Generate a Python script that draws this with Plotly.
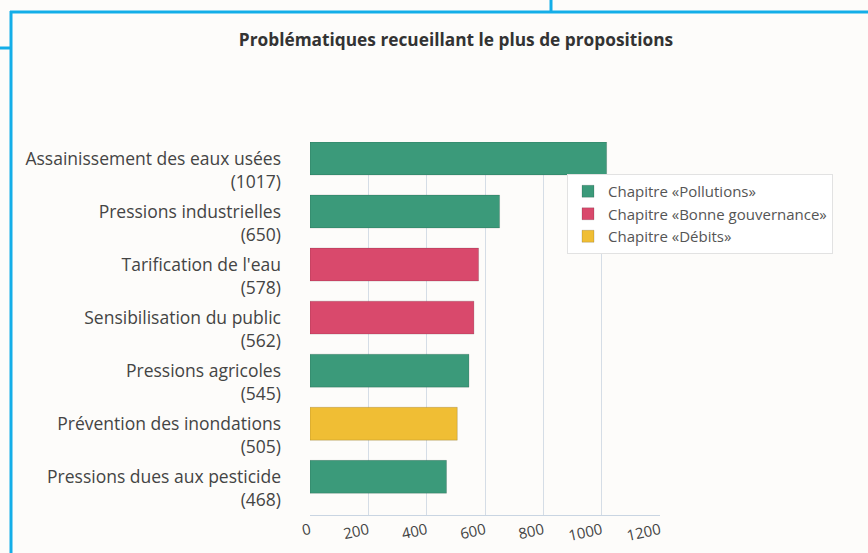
import plotly.graph_objects as go

categories = [
    "Assainissement des eaux usées",
    "Pressions industrielles",
    "Tarification de l'eau",
    "Sensibilisation du public",
    "Pressions agricoles",
    "Prévention des inondations",
    "Pressions dues aux pesticide",
]
values = [1017, 650, 578, 562, 545, 505, 468]
chapters = ["Pollutions", "Pollutions", "Bonne gouvernance", "Bonne gouvernance",
            "Pollutions", "Débits", "Pollutions"]
chapter_names = ["Pollutions", "Bonne gouvernance", "Débits"]
chapter_colors = {"Pollutions": "#3b9a7a", "Bonne gouvernance": "#d9496c", "Débits": "#f0be34"}
x_ticks = [0, 200, 400, 600, 800, 1000, 1200]

labels = [f"{c}<br>({v})" for c, v in zip(categories, values)]

W, H = 868, 553
ML, MR, MT, MB = 310, 208, 142, 38
BAR_W = 0.62
BAR_SHIFT = 0.22  # bars sit slightly above their labels, as in the perspective original

fig = go.Figure()
for ch in chapter_names:
    ys = [l for l, c in zip(labels, chapters) if c == ch]
    xs = [v for v, c in zip(values, chapters) if c == ch]
    fig.add_trace(go.Bar(
        x=xs, y=ys, orientation="h", name=f"Chapitre «{ch}»",
        marker=dict(color=chapter_colors[ch], line=dict(color="rgba(0,0,0,0.15)", width=1)),
        width=BAR_W, offset=-BAR_W / 2 - BAR_SHIFT,
    ))

def px_x(px):
    return (px - ML) / (W - ML - MR)

def px_y(py):
    return (H - MB - py) / (H - MT - MB)

frame = "#14aee8"
shapes = [
    dict(type="line", xref="paper", yref="paper", x0=px_x(10), x1=px_x(870), y0=px_y(12), y1=px_y(12),
         line=dict(color=frame, width=3)),
    dict(type="line", xref="paper", yref="paper", x0=px_x(551), x1=px_x(551), y0=px_y(-2), y1=px_y(12),
         line=dict(color=frame, width=3)),
    dict(type="line", xref="paper", yref="paper", x0=px_x(11), x1=px_x(11), y0=px_y(11), y1=px_y(556),
         line=dict(color=frame, width=3)),
    dict(type="line", xref="paper", yref="paper", x0=px_x(-2), x1=px_x(11), y0=px_y(48), y1=px_y(48),
         line=dict(color=frame, width=3)),
]

fig.update_layout(
    width=W, height=H,
    margin=dict(l=ML, r=MR, t=MT, b=MB, autoexpand=False),
    paper_bgcolor="#fdfcfa", plot_bgcolor="#fdfcfa",
    font=dict(family="Open Sans, sans-serif", color="#3c3c3c"),
    title=dict(text="<b>Problématiques recueillant le plus de propositions</b>",
               xref="container", yref="container",
               x=456 / W, xanchor="center", y=1 - 40 / H, yanchor="middle",
               font=dict(size=17.3, color="#333333")),
    barmode="overlay",
    showlegend=True,
    legend=dict(x=px_x(567), y=px_y(174), xanchor="left", yanchor="top",
                bgcolor="#ffffff", bordercolor="#e2e2e2", borderwidth=1,
                font=dict(size=15, color="#555555"), tracegroupgap=0,
                itemwidth=30),
    xaxis=dict(range=[0, 1200], tickvals=x_ticks, showgrid=True, gridcolor="#d5dde6",
               gridwidth=1, zeroline=False, showline=True, linecolor="#c9d5e2",
               tickangle=-12, tickfont=dict(size=15, color="#444444"), ticks="",
               automargin=False),
    yaxis=dict(categoryorder="array", categoryarray=labels, autorange="reversed",
               showgrid=False, zeroline=False, showline=False, ticks="",
               tickfont=dict(size=17.5, color="#444444"), ticklabelstandoff=28,
               automargin=False),
    shapes=shapes,
)

fig.write_html("out.html", config={"displayModeBar": False},
               post_script="document.body.style.margin='0';document.body.style.overflow='hidden';")
